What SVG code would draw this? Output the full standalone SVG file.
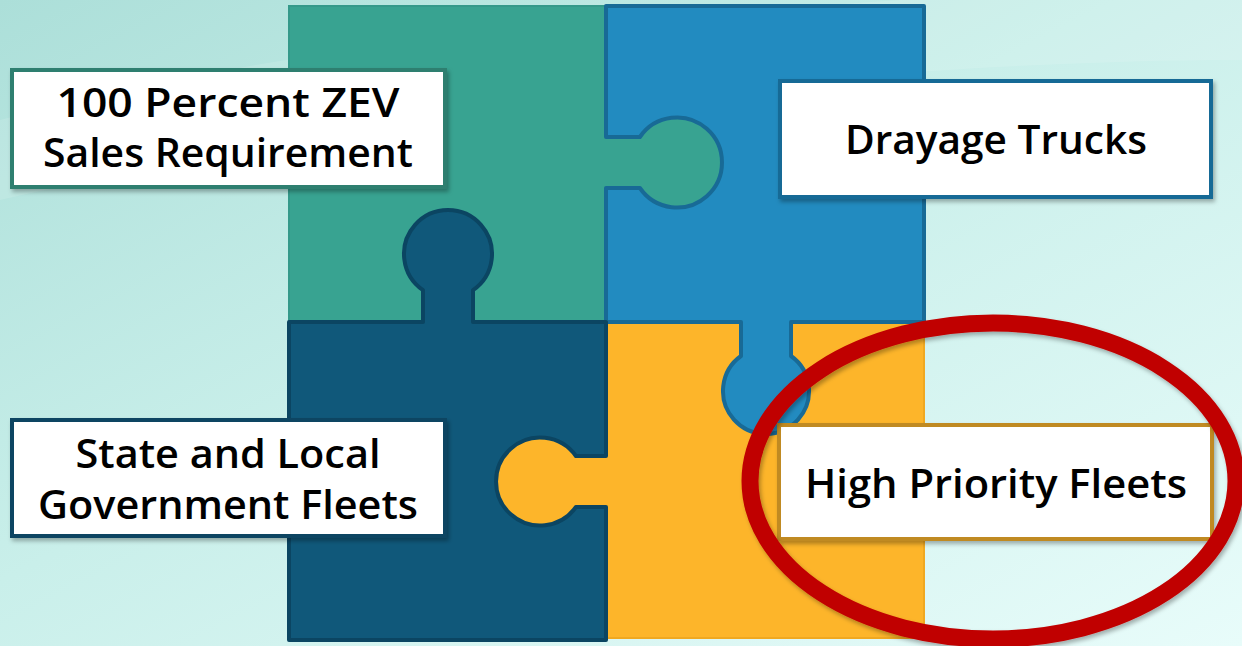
<svg xmlns="http://www.w3.org/2000/svg" width="1242" height="646" viewBox="0 0 1242 646">
<defs>
<linearGradient id="bg" x1="0" y1="0" x2="1" y2="1">
<stop offset="0" stop-color="#acdfd9"/>
<stop offset="0.45" stop-color="#c9efea"/>
<stop offset="1" stop-color="#e8fcfa"/>
</linearGradient>
<filter id="sh" x="-10%" y="-10%" width="120%" height="130%">
<feDropShadow dx="2" dy="3" stdDeviation="2" flood-color="#000" flood-opacity="0.3"/>
</filter>
<style>
.lbl{fill:#fff;stroke-width:4;filter:url(#sh)}
.t{font-family:"Open Sans","Noto Sans","Liberation Sans",sans-serif;font-weight:600;font-size:39px;fill:#000;text-anchor:middle}
</style>
</defs>
<rect width="1242" height="646" fill="url(#bg)"/>
<path d="M0 120 C300 40 600 20 900 0 L1242 0 L1242 60 C900 60 400 110 0 200 Z" fill="#ffffff" opacity="0.12"/>
<g id="piece-teal">
<path d="M289 6 L606 6 L606 137 L639.9 137 A45 45 0 1 1 639.9 188 L606 188 L606 322 L473 322 L473 290.2 A44 44 0 1 0 423 290.2 L423 322 L289 322 Z" fill="#38a391" stroke="#34998a" stroke-width="2"/>
</g>
<g id="piece-yellow">
<path d="M606 322 L741 322 L741 356 A43 43 0 1 0 791 356 L791 322 L924 322 L924 638 L606 638 L606 507 L575.9 507 A44 44 0 1 1 575.9 456 L606 456 Z" fill="#fdb52a" stroke="#f0a820" stroke-width="2"/>
</g>
<g id="piece-blue">
<path d="M606 6 L924 6 L924 322 L791 322 L791 356 A43 43 0 1 1 741 356 L741 322 L606 322 L606 188 L639.9 188 A45 45 0 1 0 639.9 137 L606 137 Z" fill="#228bc0" stroke="#186a96" stroke-width="4" stroke-linejoin="round"/>
</g>
<g id="piece-dark">
<path d="M289 322 L423 322 L423 290.2 A44 44 0 1 1 473 290.2 L473 322 L606 322 L606 456 L575.9 456 A44 44 0 1 0 575.9 507 L606 507 L606 640 L289 640 Z" fill="#10587a" stroke="#0b4562" stroke-width="4" stroke-linejoin="round"/>
</g>
<g id="label-zev">
<rect class="lbl" x="12" y="70" width="433" height="117" stroke="#2f7f70"/>
<text class="t" x="228" y="117" textLength="343" lengthAdjust="spacingAndGlyphs">100 Percent ZEV</text>
<text class="t" x="228" y="167" textLength="370" lengthAdjust="spacingAndGlyphs">Sales Requirement</text>
</g>
<g id="label-drayage">
<rect class="lbl" x="780" y="81" width="431" height="116" stroke="#186a96"/>
<text class="t" x="996" y="154" textLength="302" lengthAdjust="spacingAndGlyphs">Drayage Trucks</text>
</g>
<g id="label-state">
<rect class="lbl" x="12" y="420" width="433" height="116" stroke="#0b4562"/>
<text class="t" x="228" y="468" textLength="305" lengthAdjust="spacingAndGlyphs">State and Local</text>
<text class="t" x="228" y="519" textLength="380" lengthAdjust="spacingAndGlyphs">Government Fleets</text>
</g>
<g id="label-hpf">
<rect class="lbl" x="779" y="425" width="433" height="114" stroke="#c08a20"/>
<text class="t" x="996" y="498" textLength="382" lengthAdjust="spacingAndGlyphs">High Priority Fleets</text>
</g>
<g id="highlight">
<ellipse cx="993" cy="481" rx="243" ry="158" fill="none" stroke="#c00000" stroke-width="17" filter="url(#sh)"/>
</g>
</svg>
